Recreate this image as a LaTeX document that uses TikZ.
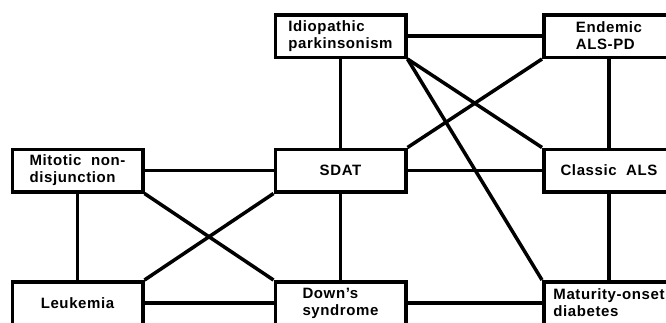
\documentclass[tikz,border=0pt]{standalone}
\usepackage{fontspec}
\setmainfont[LetterSpace=4]{Liberation Sans}

\begin{document}
\begin{tikzpicture}[x=1pt, y=-1pt,
    box/.style={draw, line width=3.5pt, minimum width=130.5pt, minimum height=42.5pt,
        inner sep=0pt, align=left, font=\fontsize{15}{17}\selectfont\bfseries},
    link/.style={line width=3.5pt}]
        \path[use as bounding box, clip] (0,0) rectangle (666,322);
        \node[box] (I) at (340.5,36) {Idiopathic\\parkinsonism};
        \node[box] (E) at (609,36) {Endemic\\ALS-PD};
        \node[box] (M) at (77.5,170.5) {Mitotic~~non-\\disjunction};
        \node[box] (S) at (340.5,170.5) {SDAT};
        \node[box] (C) at (609,170.5) {Classic~~ALS};
        \node[box] (L) at (77.5,303) {Leukemia};
        \node[box] (D) at (340.5,303) {Down’s\\syndrome};
        \node[box] (T) at (609,303) {Maturity-onset\\diabetes};
        \draw[link] (I) -- (E);
        \draw[link] (I) -- (S);
        \draw[link] (I.south east) -- (C.north west);
        \draw[link] (I.south east) -- (T.north west);
        \draw[link] (E) -- (C);
        \draw[link] (E.south west) -- (S.north east);
        \draw[link] (M) -- (S);
        \draw[link] (M) -- (L);
        \draw[link] (M.south east) -- (D.north west);
        \draw[link] (S) -- (C);
        \draw[link] (S) -- (D);
        \draw[link] (S.south west) -- (L.north east);
        \draw[link] (C) -- (T);
        \draw[link] (L) -- (D);
        \draw[link] (D) -- (T);
    \end{tikzpicture}
\end{document}
